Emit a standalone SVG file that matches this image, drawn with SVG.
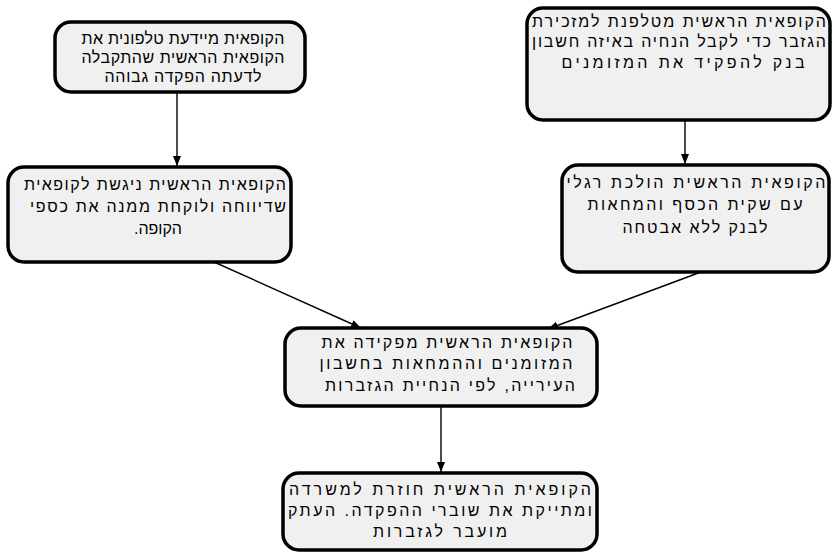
<svg xmlns="http://www.w3.org/2000/svg" width="832" height="552" viewBox="0 0 832 552">
  <style>
    .box { fill: #f0f0f0; stroke: #000; stroke-width: 3.5; }
    .lbl { font-family: "Liberation Sans", "DejaVu Sans", sans-serif; font-size: 16px; fill: #000; text-anchor: middle; }
    .edge { stroke: #000; stroke-width: 1.4; fill: none; marker-end: url(#arrow); }
  </style>
  <defs>
    <marker id="arrow" viewBox="0 0 10 8" refX="10" refY="4" markerWidth="10" markerHeight="8" markerUnits="userSpaceOnUse" orient="auto">
      <path d="M0,0 L10,4 L0,8 Z" fill="#000"/>
    </marker>
  </defs>

  <g id="connectors">
    <line class="edge" x1="177" y1="92" x2="177" y2="166"/>
    <line class="edge" x1="685" y1="120" x2="685" y2="164"/>
    <line class="edge" x1="214" y1="262" x2="361" y2="328"/>
    <line class="edge" x1="701" y1="272" x2="548" y2="329"/>
    <line class="edge" x1="441" y1="406" x2="441" y2="472"/>
  </g>

  <g id="node-notify">
    <rect class="box" x="55" y="22" width="250" height="70" rx="16"/>
    <text class="lbl" direction="rtl" x="183" y="44" textLength="203">הקופאית מיידעת טלפונית את</text>
    <text class="lbl" direction="rtl" x="183" y="63" textLength="203">הקופאית הראשית שהתקבלה</text>
    <text class="lbl" direction="rtl" x="183" y="82" textLength="157">לדעתה הפקדה גבוהה</text>
  </g>

  <g id="node-call-treasury">
    <rect class="box" x="527" y="8" width="303" height="112" rx="16"/>
    <text class="lbl" direction="rtl" x="679" y="27" textLength="294">הקופאית הראשית מטלפנת למזכירת</text>
    <text class="lbl" direction="rtl" x="679" y="47" textLength="294">הגזבר כדי לקבל הנחיה באיזה חשבון</text>
    <text class="lbl" direction="rtl" x="683" y="68" textLength="243">בנק להפקיד את המזומנים</text>
  </g>

  <g id="node-collect">
    <rect class="box" x="8" y="167" width="283" height="95" rx="16"/>
    <text class="lbl" direction="rtl" x="155" y="190" textLength="262">הקופאית הראשית ניגשת לקופאית</text>
    <text class="lbl" direction="rtl" x="158" y="212" textLength="256">שדיווחה ולוקחת ממנה את כספי</text>
    <text class="lbl" direction="rtl" x="158" y="234" textLength="48">הקופה.</text>
  </g>

  <g id="node-walk-bank">
    <rect class="box" x="562" y="165" width="267" height="107" rx="16"/>
    <text class="lbl" direction="rtl" x="696" y="188" textLength="259">הקופאית הראשית הולכת רגלי</text>
    <text class="lbl" direction="rtl" x="695" y="210" textLength="215">עם שקית הכסף והמחאות</text>
    <text class="lbl" direction="rtl" x="695" y="233" textLength="145">לבנק ללא אבטחה</text>
  </g>

  <g id="node-deposit">
    <rect class="box" x="285" y="328" width="312" height="78" rx="16"/>
    <text class="lbl" direction="rtl" x="447" y="348" textLength="251">הקופאית הראשית מפקידה את</text>
    <text class="lbl" direction="rtl" x="446" y="369" textLength="253">המזומנים וההמחאות בחשבון</text>
    <text class="lbl" direction="rtl" x="450" y="391" textLength="250">העירייה, לפי הנחיית הגזברות</text>
  </g>

  <g id="node-file">
    <rect class="box" x="283" y="473" width="314" height="77" rx="16"/>
    <text class="lbl" direction="rtl" x="440" y="495" textLength="302">הקופאית הראשית חוזרת למשרדה</text>
    <text class="lbl" direction="rtl" x="440" y="516" textLength="304">ומתייקת את שוברי ההפקדה. העתק</text>
    <text class="lbl" direction="rtl" x="440" y="537" textLength="134">מועבר לגזברות</text>
  </g>
</svg>
